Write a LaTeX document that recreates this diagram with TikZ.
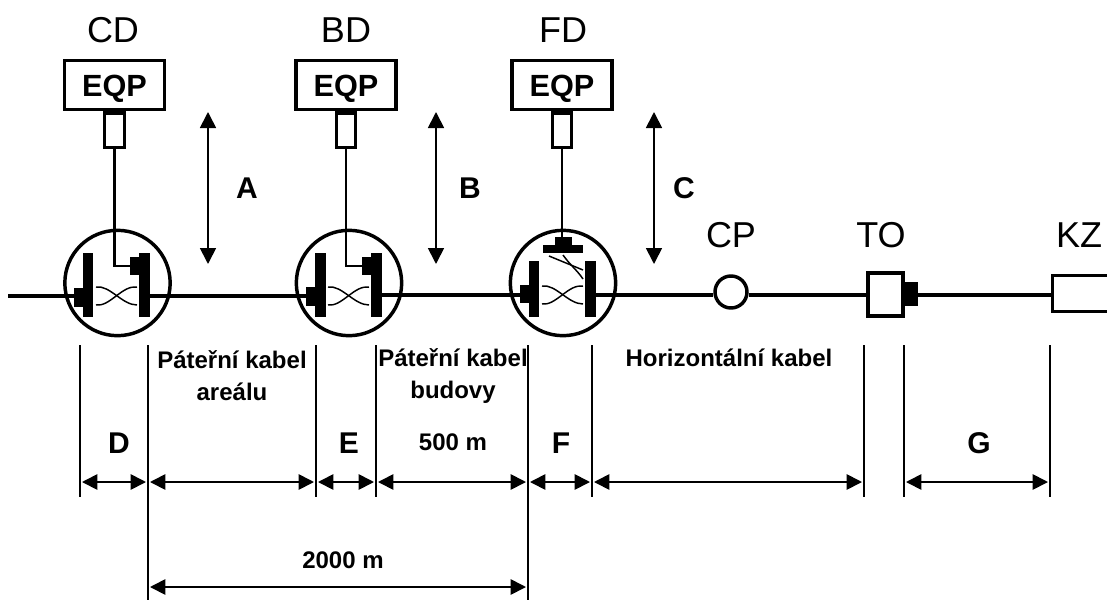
\documentclass[tikz,border=0pt]{standalone}
\usepackage{fontspec}
\setmainfont{Liberation Sans}
\usetikzlibrary{arrows.meta}
\tikzset{
  x=0.75pt,y=-0.75pt,
  bigtxt/.style={font=\fontsize{27}{30}\selectfont,inner sep=0pt},
  eqptxt/.style={font=\fontsize{23}{26}\bfseries\selectfont,inner sep=0pt,yshift=-3pt},
  lettxt/.style={font=\fontsize{22.5}{24}\bfseries\selectfont,inner sep=0pt},
  dimtxt/.style={font=\fontsize{18}{24}\bfseries\selectfont,inner sep=0pt,align=center},
  eqpbox/.style={draw,line width=2.6pt,minimum width=75pt,minimum height=37pt,inner sep=0pt},
  stub/.style={draw,line width=2.4pt,minimum width=14.5pt,minimum height=26pt,inner sep=0pt,anchor=north},
  wire/.style={line width=1.8pt},
  cable/.style={line width=3pt},
  ring/.style={draw,circle,line width=2.6pt,minimum size=79pt,inner sep=0pt},
  tick/.style={line width=1.3pt},
  dimarrow/.style={line width=1.3pt,shorten <=1.5pt,shorten >=1.5pt,{Triangle[length=11.5pt,width=11.5pt]}-{Triangle[length=11.5pt,width=11.5pt]}},
  vertarrow/.style={line width=1.3pt,{Triangle[length=12pt,width=12pt]}-{Triangle[length=12pt,width=12pt]}},
  cross/.style={line width=1.1pt},
}
\newcommand{\xpair}[1]{% crossing curves from x=#1 over 41 px, y centred 296
  \begin{scope}[shift={(#1,296)}]
    \draw[cross] (0,-9) .. controls (14,-11) and (26,9) .. (41,9);
    \draw[cross] (0,9) .. controls (14,11) and (26,-11) .. (41,-9);
  \end{scope}}
\begin{document}
\begin{tikzpicture}
\useasboundingbox (0,0) rectangle (1107,600);
\fill[white] (0,0) rectangle (1107,600);

% main cable
\coordinate (start) at (8,296);
\node[ring] (r1) at (117.5,283) {};
\node[ring] (r2) at (349,283) {};
\node[ring] (r3) at (563,283) {};
\node[draw,circle,line width=2.6pt,minimum size=24pt,inner sep=0pt] (cp) at (731,292) {};
\node[draw,line width=2.8pt,minimum width=26pt,minimum height=32pt,inner sep=0pt,fill=white] (to) at (885.5,294.5) {};
\fill (904,282) rectangle (918,306);
\coordinate (toplug) at (918,295);
\coordinate (kzl) at (1052,295);
\draw[line width=2.8pt] (1107,275.5) -- (1052.5,275.5) -- (1052.5,311.5) -- (1107,311.5);
\draw[cable] (start) -- (74,296);
\draw[cable] (150,296) -- (306,296);
\draw[cable] (382,295) -- (520,295);
\draw[cable] (596,295) -- (cp.west |- 0,295);
\draw[cable] (cp.east |- 0,295) -- (to.west |- 0,295);
\draw[cable] (toplug) -- (kzl);

% CD
\node[bigtxt] (lcd) at (113,30) {CD};
\node[eqpbox] (e1) at (114.5,85) {};
\node[eqptxt] at (e1) {EQP};
\node[stub] (s1) at (e1.south) {};
\coordinate (w1) at (114,266);
\draw[wire] (s1.south) -- (s1.south |- w1) -- (130,266);
\fill (83,253) rectangle (93,317);
\fill (74,288) rectangle (83,307);
\fill (139,253) rectangle (150,317);
\fill (130,257) rectangle (139,275);
\xpair{96}

% BD
\node[bigtxt] (lbd) at (346,30) {BD};
\node[eqpbox] (e2) at (346,85) {};
\node[eqptxt] at (e2) {EQP};
\node[stub] (s2) at (e2.south) {};
\draw[wire] (s2.south) -- (s2.south |- 0,266) -- (362,266);
\fill (315,253) rectangle (326,317);
\fill (306,287) rectangle (315,306);
\fill (371,253) rectangle (382,317);
\fill (362,257) rectangle (371,275);
\xpair{328}

% FD
\node[bigtxt] (lfd) at (563,30) {FD};
\node[eqpbox] (e3) at (562,85) {};
\node[eqptxt] at (e3) {EQP};
\node[stub] (s3) at (e3.south) {};
\fill (529,261) rectangle (539,317);
\fill (520,285) rectangle (529,303);
\fill (585,261) rectangle (596,317);
\fill (543,245) rectangle (583,253);
\fill (555,237) rectangle (572,245);
\draw[wire] (s3.south) -- (s3.south |- 0,237);
\draw[cross] (549,256) -- (583,270);
\draw[cross] (563,255) .. controls (570,265) and (577,270) .. (583,279);
\begin{scope}[shift={(542,-1)}]\xpair{0}\end{scope}

% vertical arrows
\coordinate (at) at (208,112); \coordinate (ab) at (208,264);
\coordinate (bt) at (436,112); \coordinate (bb) at (436,264);
\coordinate (ct) at (654,112); \coordinate (cb) at (654,264);
\draw[vertarrow] (at) -- (ab);
\draw[vertarrow] (bt) -- (bb);
\draw[vertarrow] (ct) -- (cb);
\node[lettxt] (la) at (247,188) {A};
\node[lettxt] (lb) at (470,188) {B};
\node[lettxt] (lc) at (684,188) {C};

% labels right
\node[bigtxt] (lcp) at (731,235) {CP};
\node[bigtxt] (lto) at (881,235) {TO};
\node[bigtxt] (lkz) at (1079,235) {KZ};

% ticks
\foreach \n/\x/\b in {t1/80/497,t2/148/600,t3/316/497,t4/376/497,t5/528/600,t6/592/497,t7/864/497,t8/904/497,t9/1050/497}{
  \coordinate (\n a) at (\x,345);
  \coordinate (\n b) at (\x,\b);
  \draw[tick] (\n a) -- (\n b);
  \coordinate (\n) at (\x,482);
}
\draw[dimarrow] (t1) -- (t2);
\draw[dimarrow] (t2) -- (t3);
\draw[dimarrow] (t3) -- (t4);
\draw[dimarrow] (t4) -- (t5);
\draw[dimarrow] (t5) -- (t6);
\draw[dimarrow] (t6) -- (t7);
\draw[dimarrow] (t8) -- (t9);
\coordinate (u2) at (148,587);
\coordinate (u5) at (528,587);
\draw[dimarrow] (u2) -- (u5);

\node[lettxt] (ld) at (119,443) {D};
\node[lettxt] (le) at (349,443) {E};
\node[lettxt] (lf) at (561,443) {F};
\node[lettxt] (lg) at (979,443) {G};
\node[dimtxt] (p1) at (232,376) {Páteřní kabel\\areálu};
\node[dimtxt] (p2) at (453,376) {Páteřní kabel\\budovy};
\node[dimtxt] (h) at (729,358) {Horizontální kabel};
\node[dimtxt] (m5) at (453,442) {500 m};
\node[dimtxt] (m2) at (343,560) {2000 m};
\end{tikzpicture}
\end{document}
